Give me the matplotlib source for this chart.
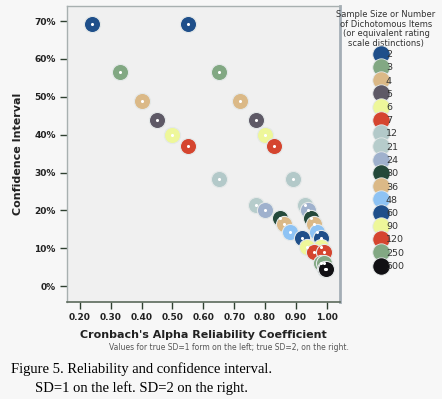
import numpy as np
import matplotlib
matplotlib.use("Agg")
import matplotlib.pyplot as plt
from matplotlib.lines import Line2D

# sample size / number of items
sizes = ["2", "3", "4", "5", "6", "7", "12", "21", "24", "30", "36", "48",
         "60", "90", "120", "250", "500"]
# confidence interval (%) for each size
ci = [69.3, 56.6, 49.0, 43.8, 40.0, 37.0, 28.3, 21.5, 20.0, 18.0, 16.3,
      14.2, 12.7, 10.4, 9.0, 6.2, 4.4]
# reliability for true SD=1 (left) and SD=2 (right)
alpha_sd1 = [0.24, 0.33, 0.40, 0.45, 0.50, 0.55, 0.65, 0.77, 0.80, 0.85,
             0.86, 0.88, 0.92, 0.935, 0.96, 0.98, 0.993]
alpha_sd2 = [0.55, 0.65, 0.72, 0.77, 0.80, 0.83, 0.89, 0.93, 0.94, 0.95,
             0.96, 0.97, 0.98, 0.98, 0.99, 0.99, 0.997]
colors = ["#1f4f8a", "#82a883", "#dbb987", "#5e5966", "#eef79a", "#d5452f",
          "#b3c9c9", "#b6cccb", "#9fb1cd", "#24493a", "#dbb987", "#8ec3f4",
          "#1f4f8a", "#eef79a", "#d5452f", "#82a883", "#111014"]

xticks = [0.2, 0.3, 0.4, 0.5, 0.6, 0.7, 0.8, 0.9, 1.0]
yticks = [0, 10, 20, 30, 40, 50, 60, 70]

fig = plt.figure(figsize=(4.42, 3.99), dpi=100)
fig.patch.set_facecolor("#f7f7f7")
ax = fig.add_axes([67 / 442, 97 / 399, 273 / 442, 296 / 399])
ax.set_facecolor("#f0f0f0")

for i in range(len(sizes)):
    for xs in (alpha_sd1, alpha_sd2):
        ax.scatter(xs[i], ci[i], s=135, color=colors[i], edgecolors="#e4e8e8",
                   linewidths=0.8, zorder=3)
        ax.scatter(xs[i], ci[i], s=1.5, color="white", zorder=4)

ax.set_xlim(0.158, 1.043)
ax.set_ylim(-4.2, 74.0)
ax.set_xticks(xticks)
ax.set_xticklabels(["%.2f" % v for v in xticks])
ax.set_yticks(yticks)
ax.set_yticklabels(["%d%%" % v for v in yticks])
ax.tick_params(labelsize=6.5, length=5, width=1, color="#2f4030", pad=3)
for lab in ax.get_xticklabels() + ax.get_yticklabels():
    lab.set_fontweight("bold")
    lab.set_color("#222222")

for side in ("left", "top"):
    ax.spines[side].set_color("#a8b0b0")
    ax.spines[side].set_linewidth(1.0)
ax.spines["right"].set_color("#a4aeb6")
ax.spines["right"].set_linewidth(2.0)
ax.spines["bottom"].set_color("#5c6a5c")
ax.spines["bottom"].set_linewidth(1.2)

ax.set_xlabel("Cronbach's Alpha Reliability Coefficient", fontsize=8,
              fontweight="bold", color="#222222", labelpad=6)
ax.set_ylabel("Confidence Interval", fontsize=8, fontweight="bold",
              color="#222222", labelpad=8)

fig.text(229 / 442, 1 - 348 / 399,
         "Values for true SD=1 form on the left; true SD=2, on the right.",
         fontsize=5.5, color="#555555", ha="center", va="center")

fig.text(11 / 442, 1 - 369 / 399, "Figure 5. Reliability and confidence interval.",
         family="Liberation Serif", fontsize=10.5, color="black", va="center")
fig.text(35 / 442, 1 - 388 / 399, "SD=1 on the left. SD=2 on the right.",
         family="Liberation Serif", fontsize=10.5, color="black", va="center")

handles = [Line2D([], [], ls="none", marker="o", markersize=12.5,
                  markerfacecolor=c, markeredgecolor="#e4e8e8",
                  markeredgewidth=0.6) for c in colors]
leg = fig.legend(handles, sizes, loc="upper left",
                 bbox_to_anchor=(376 / 442, 1 - 50 / 399),
                 frameon=False, fontsize=6.8, labelspacing=0.45,
                 handlelength=1.0, handletextpad=0.05, borderpad=0,
                 borderaxespad=0)
for t in leg.get_texts():
    t.set_color("#333333")

fig.text(386 / 442, 1 - 10 / 399,
         "Sample Size or Number\nof Dichotomous Items\n(or equivalent rating\nscale distinctions)",
         fontsize=6.0, color="#333333", ha="center", va="top", linespacing=1.1)

fig.savefig("out.png", dpi=100, facecolor=fig.get_facecolor())
